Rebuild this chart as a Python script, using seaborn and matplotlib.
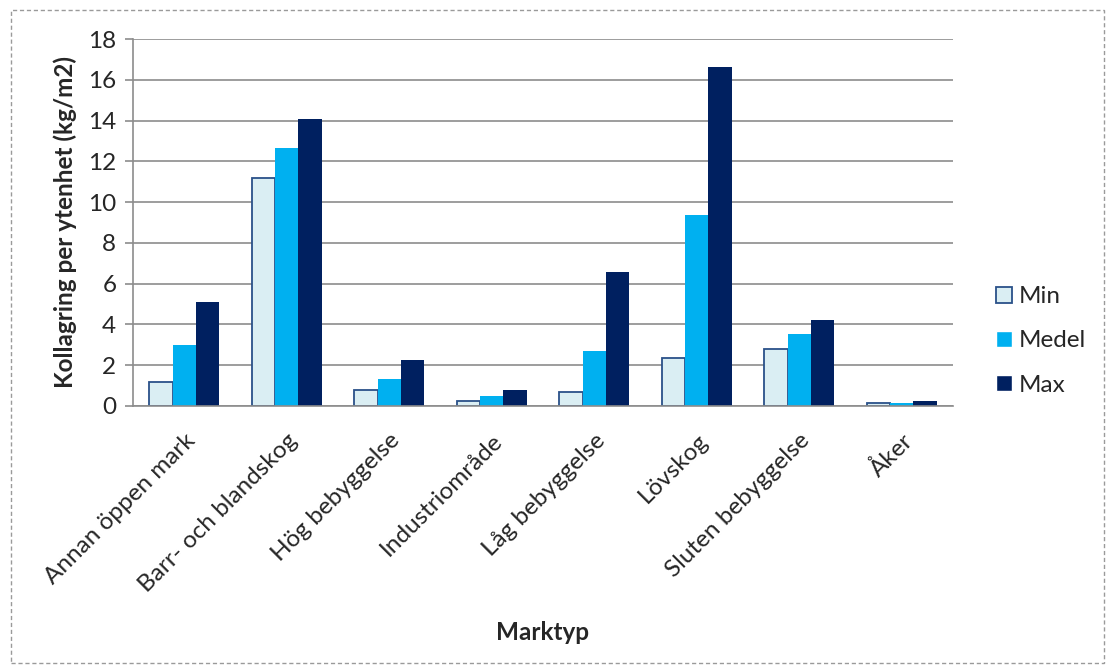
import matplotlib
matplotlib.use("Agg")
import seaborn as sns
import numpy as np
import pandas as pd
from matplotlib import pyplot as plt
from matplotlib.patches import Rectangle, Patch

categories = ["Annan öppen mark", "Barr- och blandskog", "Hög bebyggelse", "Industriområde",
              "Låg bebyggelse", "Lövskog", "Sluten bebyggelse", "Åker"]
series = ["Min", "Medel", "Max"]
min_vals = [1.18, 11.2, 0.8, 0.25, 0.7, 2.33, 2.82, 0.17]
medel_vals = [3.0, 12.65, 1.32, 0.5, 2.72, 9.35, 3.52, 0.15]
max_vals = [5.08, 14.1, 2.28, 0.8, 6.55, 16.65, 4.2, 0.24]
colors = ["#DAEEF3", "#00B0F0", "#002060"]

df = pd.DataFrame({
    "Marktyp": categories * 3,
    "serie": [s for s in series for _ in categories],
    "värde": min_vals + medel_vals + max_vals,
})

sns.set_style("white")
plt.rcParams["font.family"] = ["Lato", "DejaVu Sans"]

fig = plt.figure(figsize=(11.07, 6.66), dpi=100)
ax = fig.add_axes([133 / 1107, 1 - 406 / 666, 820 / 1107, 367 / 666])

sns.barplot(data=df, x="Marktyp", y="värde", hue="serie", hue_order=series,
            palette=colors, width=0.68, ax=ax, legend=False, linewidth=0, saturation=1)

# dark outline only on the Min bars
for bar in ax.containers[0]:
    bar.set_edgecolor("#2A5189")
    bar.set_linewidth(1.3)

ax.set_ylim(0, 18)
ax.set_yticks(range(0, 19, 2))
ax.set_xlim(-0.5, len(categories) - 0.5)
ax.yaxis.grid(True, color="#8C8C8C", linewidth=1.2)
ax.set_axisbelow(True)
for s in ["top", "right"]:
    ax.spines[s].set_visible(False)
for s in ["left", "bottom"]:
    ax.spines[s].set_color("#8C8C8C")
    ax.spines[s].set_linewidth(1.2)

fs = 17.5
# ticks between categories on x axis
ax.set_xticks(np.arange(len(categories)))
ax.set_xticklabels(categories, rotation=45, ha="right", rotation_mode="anchor", fontsize=fs)
ax.tick_params(axis="x", length=0, pad=17)
ax.set_xticks(np.arange(-0.5, len(categories)), minor=True)
ax.tick_params(axis="x", which="minor", length=7, color="#8C8C8C", width=1.2, direction="out")
ax.tick_params(axis="y", length=6, color="#8C8C8C", width=1.2, labelsize=fs, pad=6, direction="out", left=True)

ax.set_xlabel("Marktyp", fontsize=fs, fontweight="bold", labelpad=18)
ax.set_ylabel("Kollagring per ytenhet (kg/m2)", fontsize=fs, fontweight="bold", labelpad=8)

handles = [Patch(facecolor=colors[0], edgecolor="#2A5189", linewidth=1.3),
           Patch(facecolor=colors[1]), Patch(facecolor=colors[2])]
fig.legend(handles, series, loc="center left", bbox_to_anchor=(974 / 1107, 1 - 341 / 666),
           frameon=False, fontsize=fs, handlelength=0.65, handleheight=0.65,
           labelspacing=0.95, handletextpad=0.3)

fig.patches.append(Rectangle((11 / 1107, 1 - 663 / 666), 1093 / 1107, 653 / 666,
                             transform=fig.transFigure, fill=False, edgecolor="#9A9A9A",
                             linestyle=(0, (3, 2)), linewidth=1))

fig.savefig("out.png", dpi=100)
